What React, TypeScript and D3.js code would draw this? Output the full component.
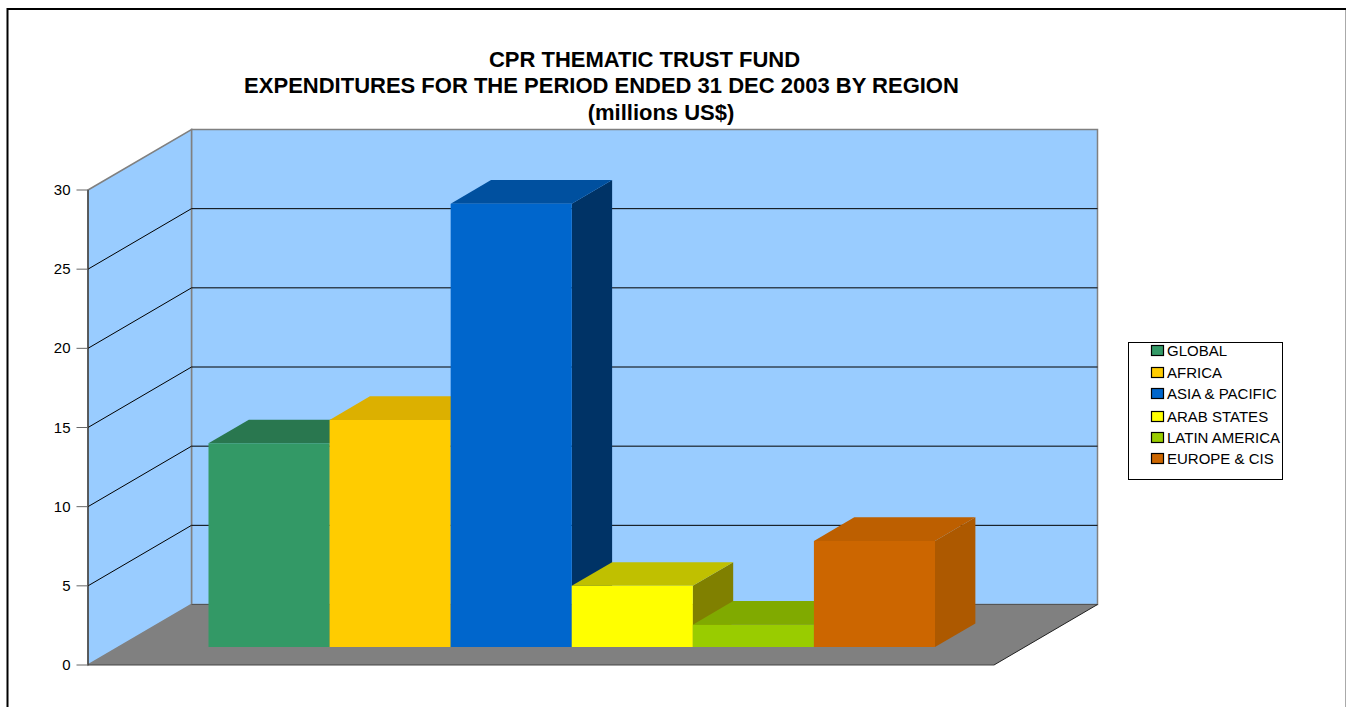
import React from "react";
import * as d3 from "d3";

const titleLines = ["CPR THEMATIC TRUST FUND", "EXPENDITURES FOR THE PERIOD ENDED 31 DEC 2003 BY REGION", "(millions US$)"];
const titleX = [644.5, 601.5, 661];
const titleY = [67, 93, 119.5];
const regions = ["GLOBAL", "AFRICA", "ASIA & PACIFIC", "ARAB STATES", "LATIN AMERICA", "EUROPE & CIS"];
const values = [12.87, 14.34, 28.0, 3.87, 1.41, 6.7];
const frontColors = ["#339966", "#ffcc00", "#0066cc", "#ffff00", "#99cc00", "#cc6600"];
const topColors = ["#29774f", "#dcb000", "#00509f", "#c0c000", "#80aa00", "#bd5f00"];
const sideColors = ["#1f5c3d", "#b89200", "#003366", "#808000", "#668800", "#ad5900"];
const yTicks = [0, 5, 10, 15, 20, 25, 30];
const legendY = [351, 373, 394, 417, 438, 459];

const yScale = d3.scaleLinear().domain([0, 30]).range([665, 190]);
const xScale = d3.scaleLinear().domain([0, 1]).range([88, 994]);
const dx = d3.scaleLinear().domain([0, 1]).range([0, 103.5]);
const dy = d3.scaleLinear().domain([0, 1]).range([0, -60.5]);
const band = d3.scaleBand().domain(regions).range([208.5, 935]);

const pt = (xpx: number, v: number, d: number): [number, number] => [xpx + dx(d), yScale(v) + dy(d)];
const poly = (ps: [number, number][]) => d3.line()(ps) + "Z";

const barDepth0 = 0;
const barDepth1 = 0.39;
const barBaseShift = 18;
const font = "'Liberation Sans', Arial, sans-serif";

export default function App() {
  const x0 = xScale(0);
  const x1 = xScale(1);
  return (
    <svg width={1346} height={707} style={{ position: "absolute", left: 0, top: 0, background: "#fff" }} fontFamily={font}>
      <path d="M7.5 707V9H1346" fill="none" stroke="#000" strokeWidth={2} />
      <path d="M1345.5 10V707" fill="none" stroke="#aaa" strokeWidth={1} />
      {titleLines.map((t, i) => (
        <text key={t} x={titleX[i]} y={titleY[i]} textAnchor="middle" fontSize={22} fontWeight="bold" fill="#000">{t}</text>
      ))}

      {/* back wall */}
      <path d={poly([pt(x0, 30, 1), pt(x1, 30, 1), pt(x1, 0, 1), pt(x0, 0, 1)])} fill="#99ccff" stroke="#808080" strokeWidth={1.5} />
      {/* side wall */}
      <path d={poly([pt(x0, 30, 0), pt(x0, 30, 1), pt(x0, 0, 1), pt(x0, 0, 0)])} fill="#99ccff" stroke="#808080" strokeWidth={1.5} />
      {/* floor */}
      <path d={poly([pt(x0, 0, 0), pt(x1, 0, 0), pt(x1, 0, 1), pt(x0, 0, 1)])} fill="#808080" />
      <path d={d3.line()([pt(x0, 0, 1), pt(x1, 0, 1)]) as string} stroke="#555" fill="none" />
      <path d={d3.line()([pt(x1, 0, 0), pt(x1, 0, 1)]) as string} stroke="#222" fill="none" />
      <path d={d3.line()([pt(x0, 0, 0), pt(x1, 0, 0)]) as string} stroke="#444" strokeWidth={1.2} fill="none" />

      {/* grid lines */}
      {yTicks.filter((t) => t > 0 && t < 30).map((t) => (
        <g key={t} stroke="#000" strokeWidth={1} fill="none">
          <path d={d3.line()([pt(x0, t, 0), pt(x0, t, 1), pt(x1, t, 1)]) as string} />
        </g>
      ))}
      <path d={d3.line()([pt(x0, 30, 0), pt(x0, 0, 0)]) as string} stroke="#333" strokeWidth={1.2} fill="none" />

      {/* axis ticks */}
      {yTicks.map((t) => (
        <g key={t}>
          <path d={d3.line()([[76.5, yScale(t)], [x0, yScale(t)]]) as string} stroke="#666" strokeWidth={1} fill="none" />
          <text x={70.5} y={yScale(t) + 5} textAnchor="end" fontSize={15} fill="#000">{t}</text>
        </g>
      ))}

      {/* bars */}
      {regions.map((r, i) => {
        const a = band(r) as number;
        const b = a + band.bandwidth();
        const v = values[i];
        const p = (x: number, val: number, d: number): [number, number] => {
          const q = pt(x, val, d);
          return [q[0], q[1] - barBaseShift];
        };
        return (
          <g key={r}>
            <path d={poly([p(b, 0, barDepth0), p(b, 0, barDepth1), p(b, v, barDepth1), p(b, v, barDepth0)])} fill={sideColors[i]} />
            <path d={poly([p(a, v, barDepth0), p(a, v, barDepth1), p(b, v, barDepth1), p(b, v, barDepth0)])} fill={topColors[i]} />
            <path d={poly([p(a, 0, barDepth0), p(b, 0, barDepth0), p(b, v, barDepth0), p(a, v, barDepth0)])} fill={frontColors[i]} />
          </g>
        );
      })}

      {/* legend */}
      <rect x={1128.5} y={342.5} width={154} height={137} fill="#fff" stroke="#000" strokeWidth={1} />
      {regions.map((r, i) => (
        <g key={r}>
          <rect x={1151.5} y={legendY[i] - 5.5} width={12} height={10} fill={frontColors[i]} stroke="#000" strokeWidth={1.2} />
          <text x={1167} y={legendY[i] + 4.5} fontSize={15} fill="#000">{r}</text>
        </g>
      ))}
    </svg>
  );
}
